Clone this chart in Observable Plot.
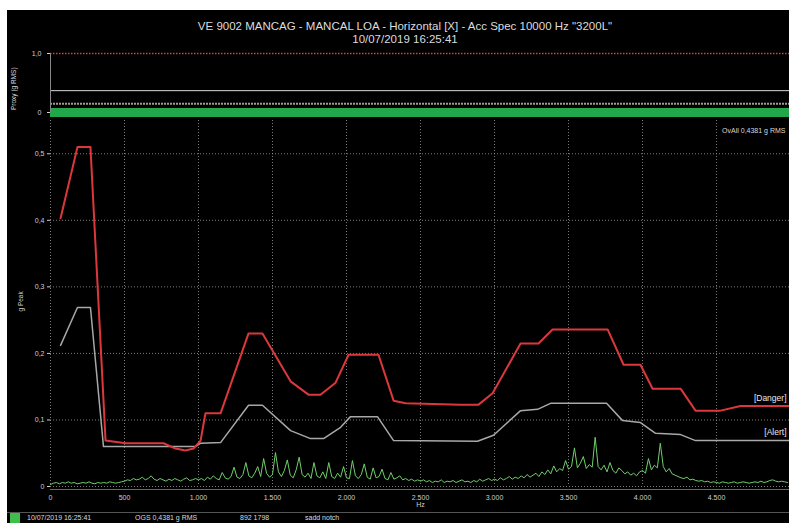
<!DOCTYPE html>
<html>
<head>
<meta charset="utf-8">
<script src="https://cdn.jsdelivr.net/npm/d3@7"></script>
<script src="https://cdn.jsdelivr.net/npm/@observablehq/plot@0.6"></script>
<style>
  html, body { margin: 0; padding: 0; background: #ffffff; width: 789px; height: 523px; overflow: hidden; }
  #frame { position: absolute; left: 7px; top: 10px; width: 782px; height: 513px; background: #000; }
  .abs { position: absolute; }
  .txt { font-family: "Liberation Sans", Arial, sans-serif; color: #dcdcdc; white-space: nowrap; }
  #title { left: 0; width: 810px; top: 20px; text-align: center; font-size: 11.5px; line-height: 13px; }
  #topPanel { left: 0; top: 48px; }
  #mainPanel { left: 0; top: 120px; }
  #sep { left: 7px; top: 512px; width: 782px; height: 1px; background: #555; }
  #legend { left: 10px; top: 513px; font-size: 7px; line-height: 10px; }
  #legend span { display: inline-block; color: #dcdcdc; }
  #swatch { width: 10px; height: 10px; background: #3fbf4a; vertical-align: top; margin-right: 7px; }
  #topLabel { left: 10px; top: 64px; font-size: 6.5px; transform-origin: left top; transform: rotate(-90deg) translate(-46px, 0); }
</style>
</head>
<body>
<div id="frame"></div>
<div id="title" class="abs txt">VE 9002 MANCAG - MANCAL LOA - Horizontal [X] - Acc Spec 10000 Hz "3200L"<br>10/07/2019 16:25:41</div>
<div id="topPanel" class="abs"></div>
<div id="mainPanel" class="abs"></div>
<div id="sep" class="abs"></div>
<div id="legend" class="abs txt"><span id="swatch"></span><span style="width:108px">10/07/2019 16:25:41</span><span style="width:105px">OGS 0,4381 g RMS</span><span style="width:65px">892 1798</span><span>sadd notch</span></div>
<div id="topLabel" class="abs txt">Proxy (g RMS)</div>
<script>
// ---------- data ----------
const xTicks = [0, 500, 1000, 1500, 2000, 2500, 3000, 3500, 4000, 4500];
const yTicks = [0, 0.1, 0.2, 0.3, 0.4, 0.5];
const topTicks = [0, 1.0];

const dangerHz  = [68, 182, 270, 372, 507, 764, 845, 912, 966, 1014, 1047, 1149, 1338, 1432, 1622, 1743, 1824, 1926, 2014, 2216, 2318, 2399, 2770, 2892, 2987, 3176, 3297, 3392, 3764, 3872, 3986, 4068, 4257, 4358, 4527, 4662, 4993];
const dangerVal = [0.403, 0.510, 0.510, 0.069, 0.065, 0.065, 0.057, 0.054, 0.057, 0.069, 0.110, 0.110, 0.230, 0.230, 0.158, 0.138, 0.138, 0.156, 0.198, 0.198, 0.129, 0.125, 0.123, 0.123, 0.140, 0.215, 0.215, 0.236, 0.236, 0.183, 0.183, 0.147, 0.147, 0.114, 0.114, 0.121, 0.121];

const alertHz  = [68, 182, 270, 358, 980, 1014, 1149, 1338, 1432, 1622, 1757, 1845, 1960, 2027, 2209, 2318, 2885, 2993, 3176, 3291, 3378, 3757, 3865, 3986, 4088, 4257, 4358, 4993];
const alertVal = [0.212, 0.269, 0.269, 0.060, 0.060, 0.065, 0.066, 0.122, 0.122, 0.084, 0.072, 0.072, 0.089, 0.105, 0.105, 0.069, 0.068, 0.077, 0.114, 0.116, 0.125, 0.125, 0.099, 0.096, 0.080, 0.078, 0.069, 0.069];

// spectrum amplitudes (g peak), one per 20 Hz bin starting at 0 Hz
const binWidthHz = 20;
const spectrum = [
  0.003,0.005,0.006,0.004,0.006,0.005,0.007,0.005,0.006,0.004,0.005,0.006,0.005,0.007,0.005,0.004,0.006,0.005,0.006,0.005,0.007,0.006,0.005,0.006,0.007,
  0.008,0.010,0.009,0.012,0.010,0.011,0.014,0.010,0.012,0.016,0.011,0.009,0.012,0.010,0.008,0.011,0.009,0.012,0.010,0.008,0.011,0.013,0.009,0.010,0.012,
  0.010,0.012,0.009,0.014,0.011,0.016,0.012,0.010,0.021,0.013,0.011,0.015,0.029,0.014,0.012,0.018,0.036,0.016,0.013,0.020,0.030,0.015,0.042,0.020,0.014,
  0.018,0.051,0.022,0.015,0.024,0.040,0.017,0.013,0.025,0.044,0.018,0.014,0.020,0.012,0.036,0.016,0.013,0.022,0.012,0.036,0.015,0.012,0.020,0.014,0.030,
  0.013,0.012,0.039,0.016,0.012,0.018,0.034,0.014,0.011,0.028,0.013,0.015,0.026,0.012,0.010,0.021,0.011,0.013,0.016,0.010,0.012,0.009,0.011,0.008,0.010,
  0.008,0.010,0.007,0.009,0.006,0.008,0.007,0.010,0.006,0.008,0.007,0.009,0.006,0.008,0.010,0.007,0.008,0.006,0.009,0.007,0.011,0.008,0.010,0.012,0.009,
  0.011,0.009,0.013,0.010,0.012,0.015,0.011,0.014,0.012,0.016,0.013,0.018,0.014,0.017,0.020,0.015,0.022,0.018,0.025,0.019,0.031,0.022,0.027,0.024,0.039,
  0.026,0.030,0.058,0.028,0.035,0.045,0.027,0.033,0.029,0.074,0.030,0.025,0.032,0.022,0.036,0.024,0.020,0.028,0.024,0.019,0.022,0.017,0.020,0.016,0.022,
  0.024,0.020,0.042,0.025,0.032,0.028,0.065,0.030,0.022,0.027,0.019,0.017,0.015,0.013,0.012,0.014,0.010,0.011,0.009,0.008,0.009,0.007,0.008,0.006,0.007,
  0.006,0.005,0.007,0.006,0.005,0.006,0.007,0.005,0.006,0.007,0.006,0.005,0.006,0.007,0.006,0.008,0.006,0.007,0.009,0.010,0.008,0.007,0.008,0.007,0.006
];

const overallText = "OvAll 0,4381 g RMS";
const xLabel = "Hz";

// top panel reference levels
const topDangerLevel = 1.0;
const topAlertLevel = 0.37;
const topLowLevel = 0.15;
const topTrend = 0;

// ---------- derived tables ----------
const danger = dangerHz.map((f, i) => ({f, v: dangerVal[i]}));
const alertLine = alertHz.map((f, i) => ({f, v: alertVal[i]}));
const spec = spectrum.map((v, i) => ({f: i * binWidthHz, v}));

const loc = d3.formatLocale({decimal: ",", thousands: ".", grouping: [3], currency: ["", ""]});
const fx = loc.format(",d");
const fy = d => d === 0 ? "0" : loc.format(".1f")(d);

const xDomain = [0, 4993];
const font = "Liberation Sans, Arial, sans-serif";

// ---------- top panel ----------
const topChart = Plot.plot({
  width: 789, height: 72,
  marginLeft: 50, marginRight: 0, marginTop: 5, marginBottom: 8,
  style: {background: "transparent", color: "#cfcfcf", fontFamily: font, fontSize: "7px", overflow: "visible"},
  x: {domain: xDomain, axis: null},
  y: {domain: [0, 1], ticks: topTicks, tickFormat: fy, tickSize: 3, label: null},
  marks: [
    Plot.ruleY([topDangerLevel], {stroke: "#c24a4a", strokeWidth: 1.5, strokeDasharray: "1.5,1.5"}),
    Plot.ruleY([topAlertLevel], {stroke: "#d8d8d8", strokeWidth: 1}),
    Plot.ruleY([topLowLevel], {stroke: "#a39d8a", strokeWidth: 2, strokeDasharray: "2,1"}),
    Plot.ruleY([topTrend], {stroke: "#22a84a", strokeWidth: 9}),
    Plot.ruleX([0], {stroke: "#888", strokeWidth: 1})
  ]
});
document.getElementById("topPanel").appendChild(topChart);

// ---------- main panel ----------
const mainChart = Plot.plot({
  width: 789, height: 396,
  marginLeft: 50, marginRight: 0, marginTop: 0, marginBottom: 30,
  style: {background: "transparent", color: "#cfcfcf", fontFamily: font, fontSize: "7px", overflow: "visible"},
  x: {domain: xDomain, ticks: xTicks, tickFormat: fx, tickSize: 0, tickPadding: 9, label: null},
  y: {domain: [0, 0.55], ticks: yTicks, tickFormat: fy, tickSize: 3, tickPadding: 3, label: null},
  marks: [
    Plot.gridX(xTicks, {stroke: "#9a9a9a", strokeOpacity: 0.8, strokeDasharray: "1,2"}),
    Plot.gridY(yTicks, {stroke: "#9a9a9a", strokeOpacity: 0.8, strokeDasharray: "1,2"}),
    Plot.ruleY([0], {stroke: "#6a6a6a", strokeWidth: 1, dy: 3}),
    Plot.line(spec, {x: "f", y: "v", stroke: "#6fcf6a", strokeWidth: 1}),
    Plot.line(alertLine, {x: "f", y: "v", stroke: "#a8a8a8", strokeWidth: 1.5}),
    Plot.line(danger, {x: "f", y: "v", stroke: "#dc383c", strokeWidth: 2}),
    Plot.text(["[Danger]"], {x: xDomain[1], y: 0.133, text: d => d, textAnchor: "end", dx: -3, fill: "#e8e8e8", fontSize: 8.5}),
    Plot.text(["[Alert]"], {x: xDomain[1], y: 0.081, text: d => d, textAnchor: "end", dx: -3, fill: "#e8e8e8", fontSize: 8.5}),
    Plot.text([overallText], {frameAnchor: "top-right", text: d => d, dx: -4, dy: 8, fill: "#d8d8d8", fontSize: 7}),
    Plot.text([xLabel], {x: 2500, frameAnchor: "bottom", text: d => d, dy: 20, fill: "#cfcfcf", fontSize: 7}),
    Plot.text(["g Peak"], {frameAnchor: "left", text: d => d, rotate: -90, dx: -30, dy: 8, fill: "#cfcfcf", fontSize: 6.5})
  ]
});
document.getElementById("mainPanel").appendChild(mainChart);
</script>
</body>
</html>
